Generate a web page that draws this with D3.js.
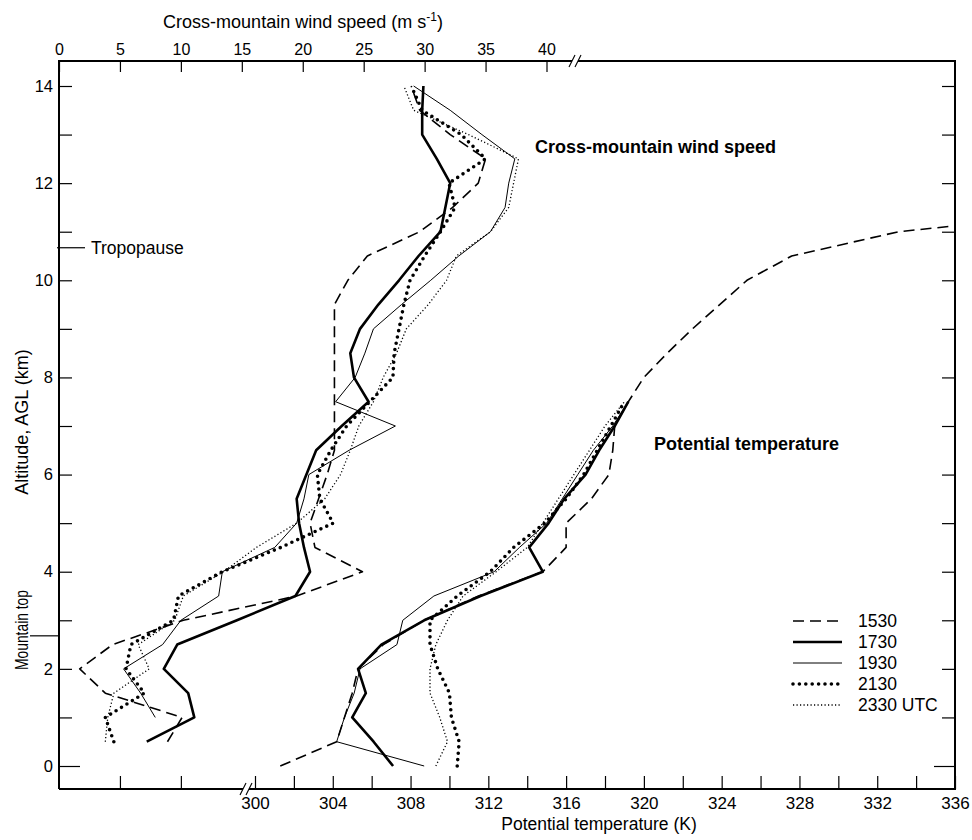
<!DOCTYPE html>
<html>
<head>
<meta charset="utf-8">
<script src="https://cdn.jsdelivr.net/npm/d3@7"></script>
<style>
  html, body { margin: 0; padding: 0; background: #fff; }
  svg text { font-family: "Liberation Sans", Arial, Helvetica, sans-serif; fill: #000; }
</style>
</head>
<body>
<svg id="chart" width="972" height="840"></svg>
<script>
// ---- data ----------------------------------------------------------
const times = ["1530", "1730", "1930", "2130", "2330 UTC"];

// Cross-mountain wind speed (m/s) sampled every 0.5 km from 0.5 to 14 km
const windAlt = [0.5, 1, 1.5, 2, 2.5, 3, 3.5, 4, 4.5, 5, 5.5, 6, 6.5, 7, 7.5,
                 8, 8.5, 9, 9.5, 10, 10.5, 11, 11.5, 12, 12.5, 13, 13.5, 14];
const wind1530 = [8.9, 10.1, 3.8, 1.7, 4.4, 10.2, 19.5, 24.9, 21.0, 20.6, 21.3, 22.0, 22.6, 22.6, 22.6,
                  22.6, 22.6, 22.6, 22.6, 23.7, 25.3, 29.6, 32.3, 34.4, 35.0, 32.1, 29.6, 28.9];
const wind1730 = [7.2, 11.1, 10.6, 8.6, 9.7, 14.6, 19.4, 20.6, 20.1, 19.7, 19.5, 20.3, 21.1, 23.2, 25.4,
                  24.2, 23.9, 24.7, 26.2, 27.9, 29.5, 31.3, 31.7, 32.1, 31.0, 29.8, 29.8, 29.9];
const wind1930 = [null, 7.9, 6.7, 5.3, 8.5, 10.0, 13.1, 13.4, 17.7, 19.5, 20.1, 20.5, 23.8, 27.6, 22.7,
                  24.3, 25.1, 25.8, 28.1, 30.5, 32.8, 35.4, 36.6, 36.9, 37.4, 34.7, 32.1, 29.1];
const wind2130 = [4.5, 3.8, 7.0, 5.5, 5.9, 9.4, 9.8, 13.4, 18.2, 22.5, 21.4, 21.2, 22.3, 23.6, 25.5,
                  27.4, 27.5, 27.9, 28.3, 28.8, 30.0, 31.3, 32.5, 32.0, 35.0, 33.0, 29.8, 28.9];
const wind2330 = [3.8, 4.0, 4.5, 7.4, 6.5, 9.5, 10.2, 13.5, 16.2, 19.5, 21.8, 23.1, 23.9, 24.6, 25.8,
                  26.6, 27.7, 28.5, 30.3, 31.8, 32.6, 35.4, 36.9, 37.3, 37.7, 33.6, 29.1, 28.3];

// Potential temperature (K)
const ptAlt = [0, 0.5, 1, 1.5, 2, 2.5, 3, 3.5, 4, 4.5, 5, 5.5, 6, 6.5, 7, 7.5];
const ptAlt1530 = [0, 0.5, 1, 1.5, 2, 2.5, 3, 3.5, 4, 4.5, 5, 5.5, 6, 6.5, 7, 7.5,
                   8, 8.5, 9, 9.5, 10, 10.5, 11, 11.12];
const pt1530 = [301.3, 304.2, 304.6, 305.0, 305.3, 306.6, 308.7, 311.5, 314.8, 316.0, 316.0, 317.3, 318.2, 318.4, 318.5, 319.2,
                320.0, 321.2, 322.5, 323.9, 325.3, 327.6, 333.1, 336.0];
const pt1730 = [307.1, 306.1, 305.0, 305.7, 305.3, 306.5, 308.7, 311.6, 314.8, 314.1, 315.1, 315.9, 317.0, 317.7, 318.5, 319.2];
const pt1930 = [308.7, 304.2, 304.6, 305.1, 305.4, 307.3, 307.6, 309.2, 312.3, 313.6, 315.0, 315.8, 316.6, 317.4, 318.4, 319.2];
const pt2130 = [310.4, 310.5, 310.1, 310.0, 309.4, 309.0, 309.0, 310.4, 312.1, 313.3, 314.9, 316.0, 316.9, 317.6, 318.3, 319.0];
const pt2330 = [309.3, 309.9, 309.5, 309.0, 309.0, 309.3, 309.9, 310.7, 312.4, 314.0, 314.8, 315.6, 316.4, 317.2, 318.0, 319.0];

// Axis ticks
const windTicks = [0, 5, 10, 15, 20, 25, 30, 35, 40];
const ptTicks = d3.range(300, 337, 2);
const altTicks = d3.range(0, 15, 1);
const tropopauseAlt = 10.67;
const mountainTopAlt = 2.68;

// ---- layout --------------------------------------------------------
const frame = { left: 59, right: 955, top: 61, bottom: 789 };
const y = d3.scaleLinear().domain([0, 14]).range([766, 86]);
const xWind = d3.scaleLinear().domain([0, 40]).range([59, 546.5]);
const xPT = d3.scaleLinear().domain([300, 336]).range([255, 955]);

const styles = [
  { width: 1.6, dash: "11,6", cap: "butt" },
  { width: 2.6, dash: null, cap: "butt" },
  { width: 1.0, dash: null, cap: "butt" },
  { width: 3.6, dash: "0,6.4", cap: "round" },
  { width: 1.3, dash: "1.2,2.3", cap: "butt" }
];

const svg = d3.select("#chart");
const g = svg.append("g");

function styled(sel, s) {
  sel.attr("fill", "none").attr("stroke", "#000")
     .attr("stroke-width", s.width)
     .attr("stroke-linecap", s.cap)
     .attr("stroke-linejoin", "round");
  if (s.dash) sel.attr("stroke-dasharray", s.dash);
  return sel;
}

// ---- profiles ------------------------------------------------------
const windSeries = [wind1530, wind1730, wind1930, wind2130, wind2330];
const windLine = d3.line()
  .defined(d => d.v != null)
  .x(d => xWind(d.v)).y(d => y(d.h));
windSeries.forEach((vals, i) => {
  const pts = windAlt.map((h, k) => ({ h, v: vals[k] }));
  styled(g.append("path").attr("d", windLine(pts)), styles[i]);
});

const ptSeries = [
  { alt: ptAlt1530, vals: pt1530 },
  { alt: ptAlt, vals: pt1730 },
  { alt: ptAlt, vals: pt1930 },
  { alt: ptAlt, vals: pt2130 },
  { alt: ptAlt, vals: pt2330 }
];
const ptLine = d3.line().x(d => xPT(d.v)).y(d => y(d.h));
ptSeries.forEach((s, i) => {
  const pts = s.alt.map((h, k) => ({ h, v: s.vals[k] }));
  styled(g.append("path").attr("d", ptLine(pts)), styles[i]);
});

// ---- axes ----------------------------------------------------------
const tickLen = 13;

function cleanAxis(size) {
  return sel => {
    sel.select(".domain").remove();
    sel.selectAll(".tick line").attr("stroke", "#000").attr("stroke-width", 1.2);
    sel.selectAll(".tick text")
       .attr("font-size", size)
       .attr("font-family", "Liberation Sans, Arial, sans-serif")
       .attr("fill", "#000");
  };
}

// top: wind speed
g.append("g").attr("transform", `translate(0,${frame.top})`)
  .call(d3.axisTop(xWind).tickValues(windTicks).tickSize(-11).tickPadding(6))
  .call(cleanAxis(16));

// bottom: potential temperature
g.append("g").attr("transform", `translate(0,${frame.bottom})`)
  .call(d3.axisBottom(xPT).tickValues(ptTicks).tickSize(-tickLen).tickPadding(8)
        .tickFormat(d => (d % 4 === 0 ? d : "")))
  .call(cleanAxis(17));
g.append("g").attr("transform", `translate(0,${frame.bottom})`)
  .call(d3.axisBottom(xWind).tickValues([5, 10]).tickSize(-tickLen).tickFormat(""))
  .call(cleanAxis(17));

// left: altitude
const leftAxis = g.append("g").attr("transform", `translate(${frame.left},0)`)
  .call(d3.axisLeft(y).tickValues(altTicks).tickSize(-tickLen).tickPadding(6)
        .tickFormat(d => (d % 2 === 0 ? d : "")))
  .call(cleanAxis(16.5));
leftAxis.selectAll(".tick line").filter(d => d === 0).attr("x2", 21);

// right: altitude ticks only
const rightAxis = g.append("g").attr("transform", `translate(${frame.right},0)`)
  .call(d3.axisRight(y).tickValues(altTicks).tickSize(-tickLen).tickFormat(""))
  .call(cleanAxis(16));
rightAxis.selectAll(".tick line").filter(d => d === 0).attr("x2", -21);

// ---- frame with axis breaks ---------------------------------------
const frameG = g.append("g").attr("stroke", "#000").attr("stroke-width", 2).attr("fill", "none");
const topBreak = 575, botBreak = 246;
frameG.append("path").attr("d",
  `M${frame.left},${frame.bottom} V${frame.top} H${topBreak - 3}` +
  `M${topBreak + 3},${frame.top} H${frame.right} V${frame.bottom} H${botBreak + 3}` +
  `M${botBreak - 3},${frame.bottom} H${frame.left}`);
[topBreak, botBreak].forEach((bx, i) => {
  const by = i === 0 ? frame.top : frame.bottom;
  [-3, 3].forEach(off => {
    frameG.append("line")
      .attr("stroke-width", 1.1)
      .attr("x1", bx + off - 3).attr("y1", by + 6)
      .attr("x2", bx + off + 3).attr("y2", by - 6);
  });
});

// ---- axis titles ---------------------------------------------------
const topTitle = g.append("text")
  .attr("x", 303).attr("y", 28)
  .attr("text-anchor", "middle")
  .attr("font-size", 18);
topTitle.append("tspan").text("Cross-mountain wind speed (m s");
topTitle.append("tspan").attr("font-size", 12).attr("dy", -7).text("-1");
topTitle.append("tspan").attr("dy", 7).text(")");

g.append("text")
  .attr("x", 599).attr("y", 830)
  .attr("text-anchor", "middle")
  .attr("font-size", 17.5)
  .text("Potential temperature (K)");

g.append("text")
  .attr("transform", "translate(28,422) rotate(-90)")
  .attr("text-anchor", "middle")
  .attr("font-size", 18)
  .text("Altitude, AGL (km)");

g.append("text")
  .attr("transform", "translate(28,630) rotate(-90)")
  .attr("text-anchor", "middle")
  .attr("font-size", 18.5)
  .attr("textLength", 80)
  .attr("lengthAdjust", "spacingAndGlyphs")
  .text("Mountain top");

// ---- reference markers ---------------------------------------------
g.append("line")
  .attr("x1", 30).attr("x2", frame.left)
  .attr("y1", y(mountainTopAlt)).attr("y2", y(mountainTopAlt))
  .attr("stroke", "#000").attr("stroke-width", 1.2);

g.append("line")
  .attr("x1", frame.left - 2).attr("x2", 85)
  .attr("y1", y(tropopauseAlt)).attr("y2", y(tropopauseAlt))
  .attr("stroke", "#000").attr("stroke-width", 1.2);
g.append("text")
  .attr("x", 91).attr("y", y(tropopauseAlt))
  .attr("dy", "0.35em")
  .attr("font-size", 17.5)
  .text("Tropopause");

// ---- curve labels --------------------------------------------------
g.append("text")
  .attr("x", 535).attr("y", 153)
  .attr("font-size", 18).attr("font-weight", "bold")
  .text("Cross-mountain wind speed");
g.append("text")
  .attr("x", 654).attr("y", 450)
  .attr("font-size", 18).attr("font-weight", "bold")
  .text("Potential temperature");

// ---- legend --------------------------------------------------------
const legend = g.append("g");
times.forEach((t, i) => {
  const ly = 621 + i * 21;
  styled(legend.append("line")
    .attr("x1", 793).attr("x2", 842)
    .attr("y1", ly).attr("y2", ly), styles[i]);
  legend.append("text")
    .attr("x", 858).attr("y", ly).attr("dy", "0.35em")
    .attr("font-size", 17.5)
    .text(t);
});
</script>
</body>
</html>
